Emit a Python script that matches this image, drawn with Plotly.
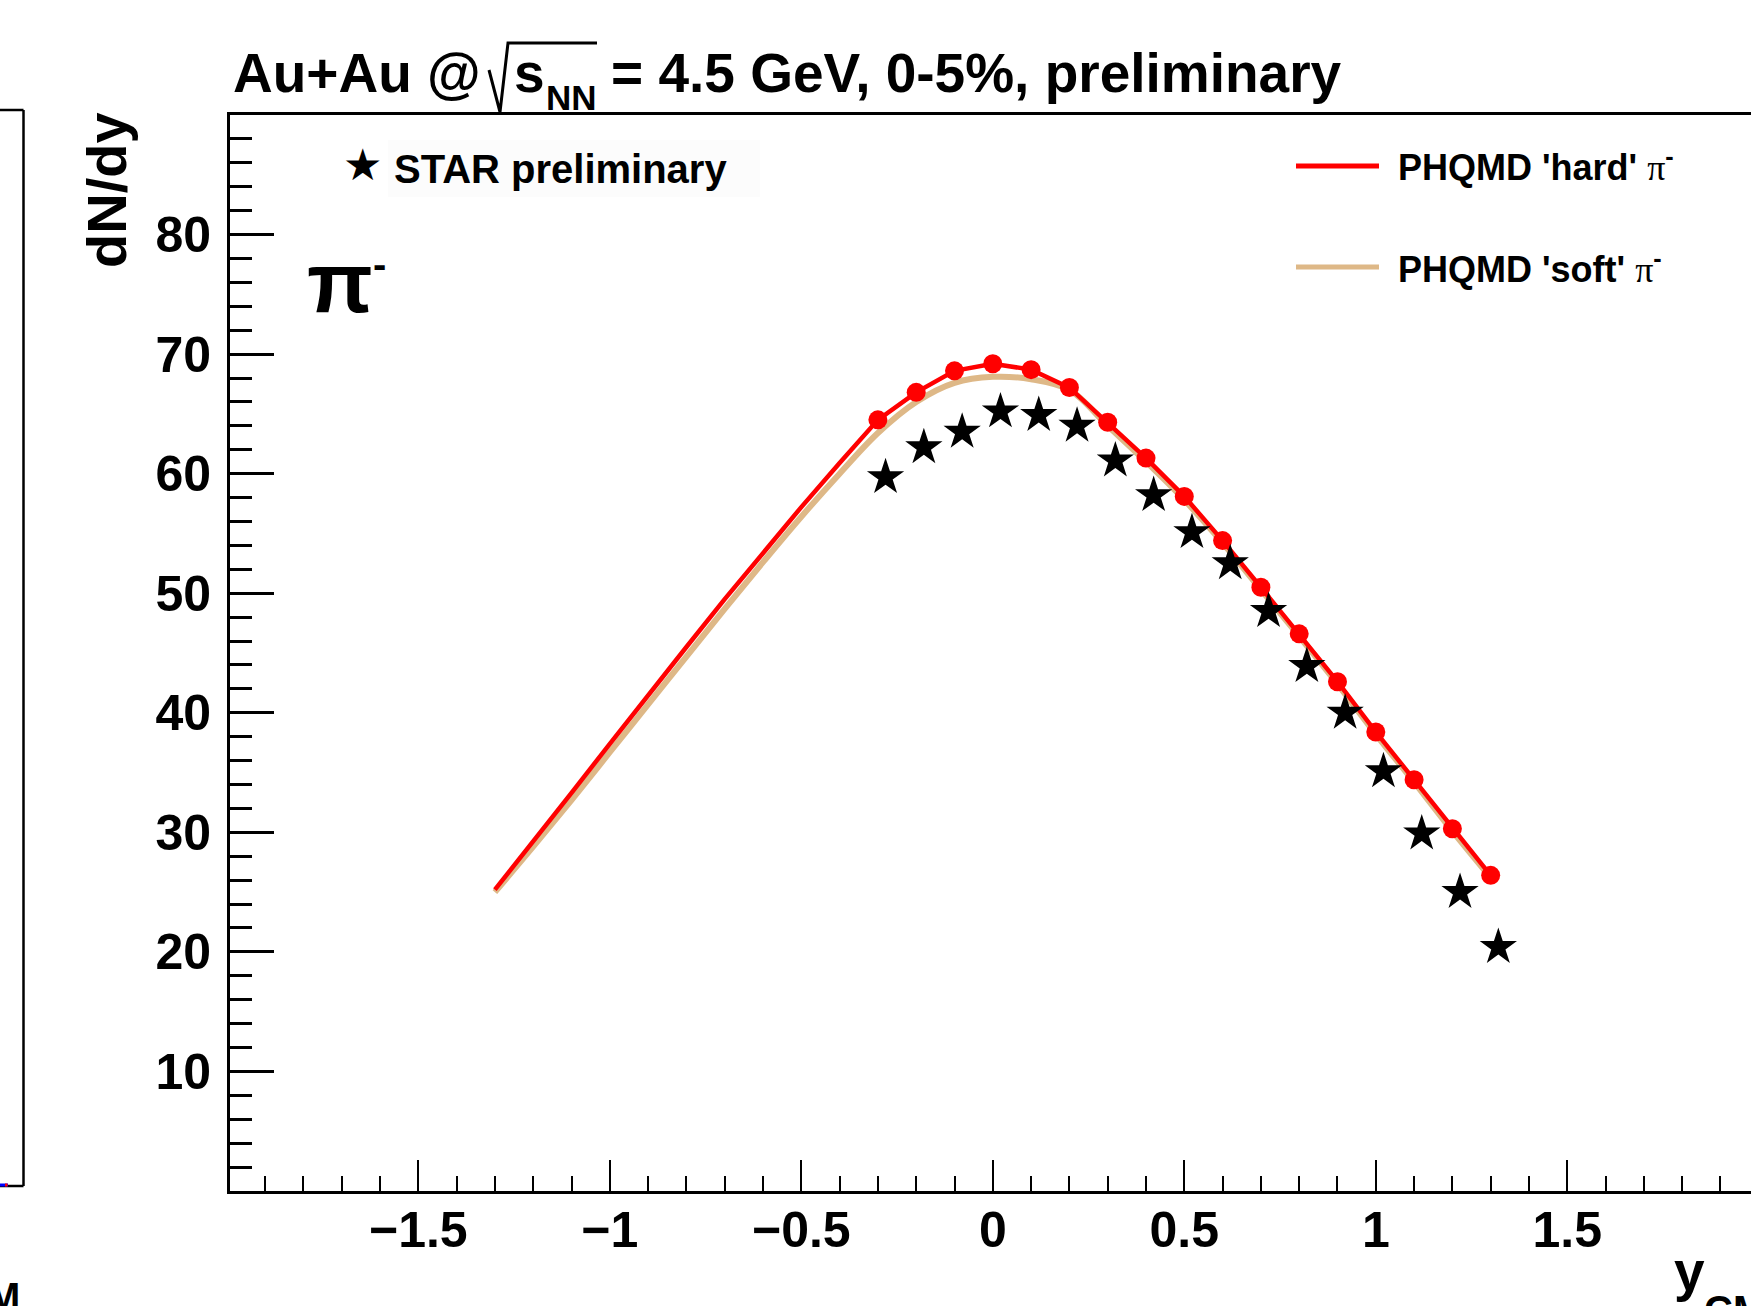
import plotly.graph_objects as go

# ---------------- canvas / layout constants ----------------
W, H = 1751, 1306
ML, MR, MT, MB = 230, 0, 115, 115
PW = W - ML - MR
PH = H - MT - MB


def px(x):
    return (x - ML) / PW


def py(y):
    return (H - MB - y) / PH


FONT = "Liberation Sans, Arial, Helvetica, sans-serif"

# ---------------- data ----------------
hard_x = [-1.3, -1.2, -1.1, -1.0, -0.9, -0.8, -0.7, -0.6, -0.5, -0.4,
          -0.3, -0.2, -0.1, 0.0, 0.1, 0.2, 0.3, 0.4, 0.5, 0.6,
          0.7, 0.8, 0.9, 1.0, 1.1, 1.2, 1.3]
hard_y = [25.2, 29.2, 33.3, 37.4, 41.5, 45.5, 49.5, 53.4, 57.2, 60.9,
          64.5, 66.8, 68.6, 69.2, 68.7, 67.2, 64.3, 61.3, 58.1, 54.4,
          50.5, 46.6, 42.6, 38.4, 34.4, 30.3, 26.4]

hard_pts_x = [-0.3, -0.2, -0.1, 0.0, 0.1, 0.2, 0.3, 0.4, 0.5, 0.6,
              0.7, 0.8, 0.9, 1.0, 1.1, 1.2, 1.3]
hard_pts_y = [64.5, 66.8, 68.6, 69.2, 68.7, 67.2, 64.3, 61.3, 58.1, 54.4,
              50.5, 46.6, 42.6, 38.4, 34.4, 30.3, 26.4]

soft_x = [-1.3, -1.2, -1.1, -1.0, -0.9, -0.8, -0.7, -0.6, -0.5, -0.4,
          -0.3, -0.2, -0.1, 0.0, 0.1, 0.2, 0.3, 0.4, 0.5, 0.6,
          0.7, 0.8, 0.9, 1.0, 1.1, 1.2, 1.3]
soft_y = [25.0, 28.8, 32.7, 36.7, 40.7, 44.7, 48.7, 52.6, 56.4, 60.0,
          63.4, 66.0, 67.6, 68.1, 67.9, 67.0, 64.0, 61.0, 57.8, 54.2,
          50.3, 46.4, 42.4, 38.2, 34.2, 30.1, 26.2]

star_x = [-0.28, -0.18, -0.08, 0.02, 0.12, 0.22, 0.32, 0.42, 0.52, 0.62,
          0.72, 0.82, 0.92, 1.02, 1.12, 1.22, 1.32]
star_y = [59.7, 62.2, 63.5, 65.2, 64.9, 64.0, 61.1, 58.2, 55.1, 52.5,
          48.5, 43.9, 40.0, 35.1, 29.9, 25.0, 20.4]

x_tickvals = [-1.5, -1.0, -0.5, 0.0, 0.5, 1.0, 1.5]
x_ticktext = ["\u22121.5", "\u22121", "\u22120.5", "0", "0.5", "1", "1.5"]
y_tickvals = [10, 20, 30, 40, 50, 60, 70, 80]
y_ticktext = ["10", "20", "30", "40", "50", "60", "70", "80"]

RED = "#FF0000"
TAN = "#DEB887"

# ---------------- traces ----------------
fig = go.Figure()
fig.add_trace(go.Scatter(x=soft_x, y=soft_y, mode="lines",
                         line=dict(color=TAN, width=6, shape="spline"),
                         showlegend=False, hoverinfo="skip"))
fig.add_trace(go.Scatter(x=hard_x, y=hard_y, mode="lines",
                         line=dict(color=RED, width=4.5),
                         showlegend=False, hoverinfo="skip"))
fig.add_trace(go.Scatter(x=hard_pts_x, y=hard_pts_y, mode="markers",
                         marker=dict(color=RED, size=19, symbol="circle"),
                         showlegend=False))
fig.add_trace(go.Scatter(x=star_x, y=star_y, mode="markers",
                         marker=dict(color="black", size=28, symbol="star",
                                     line=dict(width=0)),
                         showlegend=False))

# ---------------- axes ----------------
fig.update_xaxes(range=[-1.9917, 1.9797], showline=True, linewidth=3,
                 linecolor="black", mirror=True, showgrid=False, zeroline=False,
                 ticks="inside", ticklen=31, tickwidth=2, tickcolor="black",
                 tickmode="array", tickvals=x_tickvals, ticktext=x_ticktext,
                 tickfont=dict(family=FONT, size=50, color="black", weight="bold"),
                 ticklabelstandoff=-7,
                 minor=dict(ticks="inside", ticklen=15, tickwidth=2,
                            tickcolor="black", tickmode="linear", tick0=0,
                            dtick=0.1))
fig.update_yaxes(range=[0, 90], showline=True, linewidth=3, linecolor="black",
                 mirror=False, showgrid=False, zeroline=False,
                 ticks="inside", ticklen=44, tickwidth=2.5, tickcolor="black",
                 tickmode="array", tickvals=y_tickvals, ticktext=y_ticktext,
                 tickfont=dict(family=FONT, size=50, color="black", weight="bold"),
                 ticklabelstandoff=6,
                 minor=dict(ticks="inside", ticklen=22, tickwidth=2.5,
                            tickcolor="black", tickmode="linear", tick0=0,
                            dtick=2))

# ---------------- annotations ----------------
ann = []


def text(x, y, s, size, xanchor="left", weight="bold", family=FONT, angle=0,
         yanchor="middle"):
    ann.append(dict(x=px(x), y=py(y), xref="paper", yref="paper", text=s,
                    showarrow=False, xanchor=xanchor, yanchor=yanchor,
                    textangle=angle, borderpad=0,
                    font=dict(family=family, size=size, color="black",
                              weight=weight)))


def base(b, size):
    # centre of text box given baseline
    return b - 0.3465 * size


# title pieces
TS = 55
text(232, base(92, TS), "Au+Au @", TS)
text(513, base(92, TS), "s", TS)
text(545, base(110, 35), "NN", 35)
text(610, base(92, TS), "= 4.5 GeV, 0-5%, preliminary", TS)

# y axis title
text(106, 111, "dN/dy", 56, xanchor="center", angle=-90, yanchor="top")

# x axis title
text(1673, base(1290, 55), "y", 55)
text(1703, base(1323.6, 40), "CM", 40)

# left panel leftover label
text(21, base(1310.6, 40), "M", 40, xanchor="right")

# pi- label
text(306, base(312, 86), "\u03c0", 86)
text(372, base(278, 40), "-", 40)

# legends
text(362, base(180, 44), "\u2605", 44, xanchor="center",
     family="DejaVu Sans, sans-serif", weight="normal")
text(393, base(183, 40), "STAR preliminary", 40)
leg_pi = ("<span style='font-family:Liberation Serif, serif;font-weight:normal'>"
          "\u03c0</span><sup>-</sup>")
text(1397, base(177, 36), "PHQMD 'hard' " + leg_pi, 36)
text(1397, base(279, 36), "PHQMD 'soft' " + leg_pi, 36)

# ---------------- shapes ----------------
shapes = []


def line(x0, y0, x1, y1, color="black", width=3):
    shapes.append(dict(type="line", xref="paper", yref="paper",
                       x0=px(x0), y0=py(y0), x1=px(x1), y1=py(y1),
                       line=dict(color=color, width=width)))


# faint legend box behind STAR entry
shapes.append(dict(type="rect", xref="paper", yref="paper",
                   x0=px(388), x1=px(760), y0=py(140), y1=py(197),
                   fillcolor="rgb(252,252,252)", line=dict(width=0),
                   layer="below"))

# radical sign of sqrt(s_NN)
path = "M {},{} L {},{} L {},{} L {},{}".format(
    px(489), py(70), px(500), py(112), px(508), py(43), px(597), py(43))
shapes.append(dict(type="path", xref="paper", yref="paper", path=path,
                   line=dict(color="black", width=3)))

# legend line samples
line(1296, 166, 1379, 166, RED, 5)
line(1296, 267, 1379, 267, TAN, 5)

# neighbouring panel frame remnant
line(0, 110, 23.5, 110, "black", 2.5)
line(23.5, 110, 23.5, 1186, "black", 2.5)
line(0, 1186, 23.5, 1186, "black", 2.5)
line(0, 1185, 8, 1185, "blue", 3)
line(5, 1185, 7.5, 1185, "red", 3)

fig.update_layout(width=W, height=H,
                  margin=dict(l=ML, r=MR, t=MT, b=MB, pad=0),
                  paper_bgcolor="white", plot_bgcolor="white",
                  annotations=ann, shapes=shapes, showlegend=False)

fig.write_html("out.html")
